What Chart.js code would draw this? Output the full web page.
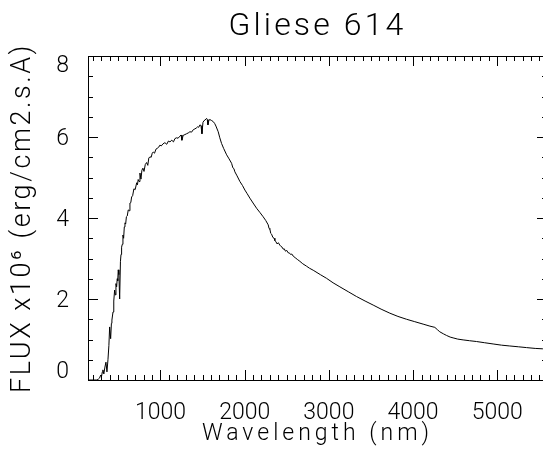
<!DOCTYPE html>
<html><head><meta charset="utf-8">
<script src="https://cdn.jsdelivr.net/npm/chart.js@4"></script>
<style>
html,body{margin:0;padding:0;background:#fff;overflow:hidden;width:543px;height:466px}
#wrap{position:relative;width:552px;height:466px}
</style></head>
<body><div id="wrap"><canvas id="c" width="552" height="466"></canvas></div>
<script>
// ---- data ----
const wavelength = [140,200,246,262,278,290,300,310,317,328,341,353,365,377,388,397,409,418,424,437,446,456,465,472,480,487,493,499,507,516,525,532,539,547,555,563,571,579,587,596,606,618,628,638,648,658,670,685,700,718,727,736,746,757,769,780,792,805,820,836,850,862,875,890,903,915,930,947,962,980,994,1010,1030,1053,1075,1095,1113,1135,1155,1172,1190,1210,1231,1245,1255,1270,1291,1310,1330,1350,1370,1390,1409,1425,1440,1455,1469,1482,1493,1505,1516,1530,1548,1556,1564,1576,1588,1605,1627,1645,1659,1686,1705,1726,1750,1786,1815,1845,1860,1872,1884,1910,1944,1975,2003,2030,2062,2100,2142,2180,2220,2250,2280,2290,2300,2310,2320,2335,2350,2359,2370,2385,2400,2418,2430,2445,2458,2470,2485,2500,2517,2530,2545,2560,2576,2600,2630,2656,2690,2735,2770,2814,2900,2973,3050,3131,3230,3329,3430,3526,3620,3724,3820,3922,4020,4119,4200,4258,4290,4317,4360,4397,4440,4475,4530,4594,4670,4753,4850,4950,5050,5148,5250,5347,5450,5540,5590];
const flux = [0,0,0,0.02,0.05,0.12,0.08,0.2,0.25,0.15,0.32,0.44,0.2,0.5,0.85,1.31,1.02,1.4,1.48,1.68,1.95,2.22,2.1,2.38,2.3,2.5,2.45,2.72,2.6,2.0,2.92,3.1,3.28,3.35,3.58,3.5,3.78,3.88,3.85,4.03,4.05,4.2,4.18,4.37,4.38,4.52,4.55,4.72,4.7,4.87,4.82,4.95,4.9,5.11,4.96,5.18,5.23,5.15,5.32,5.37,5.3,5.48,5.51,5.5,5.6,5.63,5.6,5.7,5.72,5.75,5.8,5.78,5.83,5.86,5.82,5.9,5.88,5.92,5.88,5.96,5.98,5.97,6.02,6.05,5.92,6.04,6.06,6.08,6.1,6.13,6.12,6.18,6.2,6.22,6.25,6.24,6.3,6.28,6.08,6.36,6.4,6.42,6.46,6.43,6.3,6.42,6.43,6.41,6.38,6.33,6.27,6.13,5.98,5.84,5.72,5.56,5.46,5.35,5.24,5.22,5.14,5.04,4.9,4.8,4.69,4.6,4.49,4.37,4.24,4.14,4.03,3.94,3.83,3.74,3.72,3.62,3.6,3.52,3.5,3.44,3.42,3.36,3.39,3.33,3.3,3.28,3.23,3.24,3.18,3.2,3.14,3.14,3.1,3.11,3.06,3.02,2.97,2.93,2.87,2.81,2.76,2.71,2.6,2.51,2.4,2.3,2.18,2.06,1.95,1.85,1.75,1.65,1.57,1.5,1.44,1.38,1.33,1.3,1.24,1.19,1.14,1.1,1.06,1.04,1.01,0.99,0.97,0.95,0.92,0.89,0.86,0.84,0.82,0.8,0.78,0.77,0.76];
const xTickLabels = [1000, 2000, 3000, 4000, 5000];
const yTickLabels = [0, 2, 4, 6, 8];
const chartTitle = 'Gliese 614';
const xAxisTitle = 'Wavelength (nm)';
const yAxisTitle = 'FLUX x10\u2076 (erg/cm2.s.A)';

const canvas = document.getElementById('c');
const ctx = canvas.getContext('2d');
// letter spacing keyed by a marker family name (lsN, N in hundredths of px) in the font list
const proto = CanvasRenderingContext2D.prototype;
const fontDesc = Object.getOwnPropertyDescriptor(proto, 'font');
Object.defineProperty(ctx, 'font', {
  configurable: true,
  get() { return fontDesc.get.call(this); },
  set(v) {
    fontDesc.set.call(this, v);
    const m = /ls(\d+)/.exec(v);
    if ('letterSpacing' in this) this.letterSpacing = (m ? (+m[1] / 100) : 0) + 'px';
  }
});
// let long titles run past the axis length instead of being squeezed
ctx.fillText = function (t, x, y) { return proto.fillText.call(this, t, x, y); };

// spacing so that a text spans a given length, like the wide reference lettering
function spacingFor(text, size, span) {
  const m = document.createElement('canvas').getContext('2d');
  m.font = '300 ' + size + 'px Roboto';
  const w = m.measureText(text).width;
  return Math.max(0, Math.round((span - w) / [...text].length * 100));
}

const FAM_DIG = 'Roboto, ls0';
const FAM_X = 'Roboto, ls' + spacingFor(xAxisTitle, 23, 231);
const FAM_Y = 'Roboto, ls' + spacingFor(yAxisTitle, 27, 350);
const FAM_T = 'Roboto, ls' + spacingFor(chartTitle, 32, 178);

const inwardTicks = {
  id: 'inwardTicks',
  afterDraw(chart) {
    const {ctx, chartArea: a, scales: {x, y}} = chart;
    ctx.save();
    ctx.strokeStyle = '#000';
    ctx.lineWidth = 1;
    ctx.beginPath();
    for (let v = Math.ceil(x.min / 100) * 100; v <= x.max; v += 100) {
      const px = Math.round(x.getPixelForValue(v)) + 0.5;
      const len = (v % 1000 === 0) ? 10 : 5;
      ctx.moveTo(px, a.bottom); ctx.lineTo(px, a.bottom - len);
      ctx.moveTo(px, a.top); ctx.lineTo(px, a.top + len);
    }
    for (let v = y.min; v <= y.max + 1e-9; v += 0.5) {
      const py = Math.round(y.getPixelForValue(v)) + 0.5;
      const len = (Math.abs(v % 2) < 1e-9) ? 10 : 5;
      ctx.moveTo(a.left, py); ctx.lineTo(a.left + len, py);
      ctx.moveTo(a.right, py); ctx.lineTo(a.right - len, py);
    }
    ctx.stroke();
    ctx.restore();
  }
};

new Chart(ctx, {
  type: 'scatter',
  data: {
    datasets: [{
      data: wavelength.map((w, i) => ({x: w, y: flux[i]})),
      showLine: true,
      borderColor: '#000',
      borderWidth: 1,
      pointRadius: 0,
      tension: 0
    }]
  },
  plugins: [inwardTicks],
  options: {
    responsive: false,
    devicePixelRatio: 1,
    animation: false,
    layout: {padding: {left: 0, right: 5, top: 0, bottom: 0}},
    plugins: {
      legend: {display: false},
      tooltip: {enabled: false},
      title: {
        display: true,
        text: chartTitle,
        fullSize: false,
        color: '#000',
        font: {family: FAM_T, size: 32, weight: 300, lineHeight: 1.2},
        padding: {top: 8, bottom: 9.6}
      }
    },
    scales: {
      x: {
        type: 'linear', position: 'bottom', min: 140, max: 5590,
        afterBuildTicks: s => { s.ticks = xTickLabels.map(v => ({value: v})); },
        afterFit: s => { s.height = 86; },
        grid: {display: false},
        border: {display: true, color: '#000', width: 1},
        ticks: {
          color: '#000', padding: 12, maxRotation: 0, autoSkip: false,
          font: {family: FAM_DIG, size: 23, weight: 300, lineHeight: 1.15},
          callback: v => String(v)
        },
        title: {
          display: true, text: xAxisTitle, color: '#000',
          font: {family: FAM_X, size: 23, weight: 300, lineHeight: 1.2},
          padding: {top: 0, bottom: 18}
        }
      },
      xTop: {
        type: 'linear', position: 'top', min: 140, max: 5590,
        afterFit: s => { s.height = 0; },
        grid: {display: false},
        border: {display: true, color: '#000', width: 1},
        ticks: {display: false}
      },
      y: {
        type: 'linear', position: 'left', min: 0, max: 8,
        afterBuildTicks: s => { s.ticks = yTickLabels.map(v => ({value: v})); },
        afterFit: s => { s.width = 88; },
        grid: {display: false},
        border: {display: true, color: '#000', width: 1},
        ticks: {
          color: '#000', padding: 11, labelOffset: 2, autoSkip: false,
          font: c => ({family: FAM_DIG, size: 23, weight: 300,
            lineHeight: (c.tick && c.tick.value === 8) ? 0.76 : (c.tick && c.tick.value === 0) ? 0.83 : 1.2}),
          callback: v => v === 8 ? ['', '8'] : (v === 0 ? ['0', ''] : String(v))
        },
        title: {
          display: true, text: yAxisTitle, color: '#000',
          font: {family: FAM_Y, size: 27, weight: 300, lineHeight: 1.2},
          padding: {top: 7, bottom: 0}
        }
      },
      yRight: {
        type: 'linear', position: 'right', min: 0, max: 8,
        afterFit: s => { s.width = 0; },
        grid: {display: false},
        border: {display: true, color: '#000', width: 1},
        ticks: {display: false}
      }
    }
  }
});
</script>
</body></html>
